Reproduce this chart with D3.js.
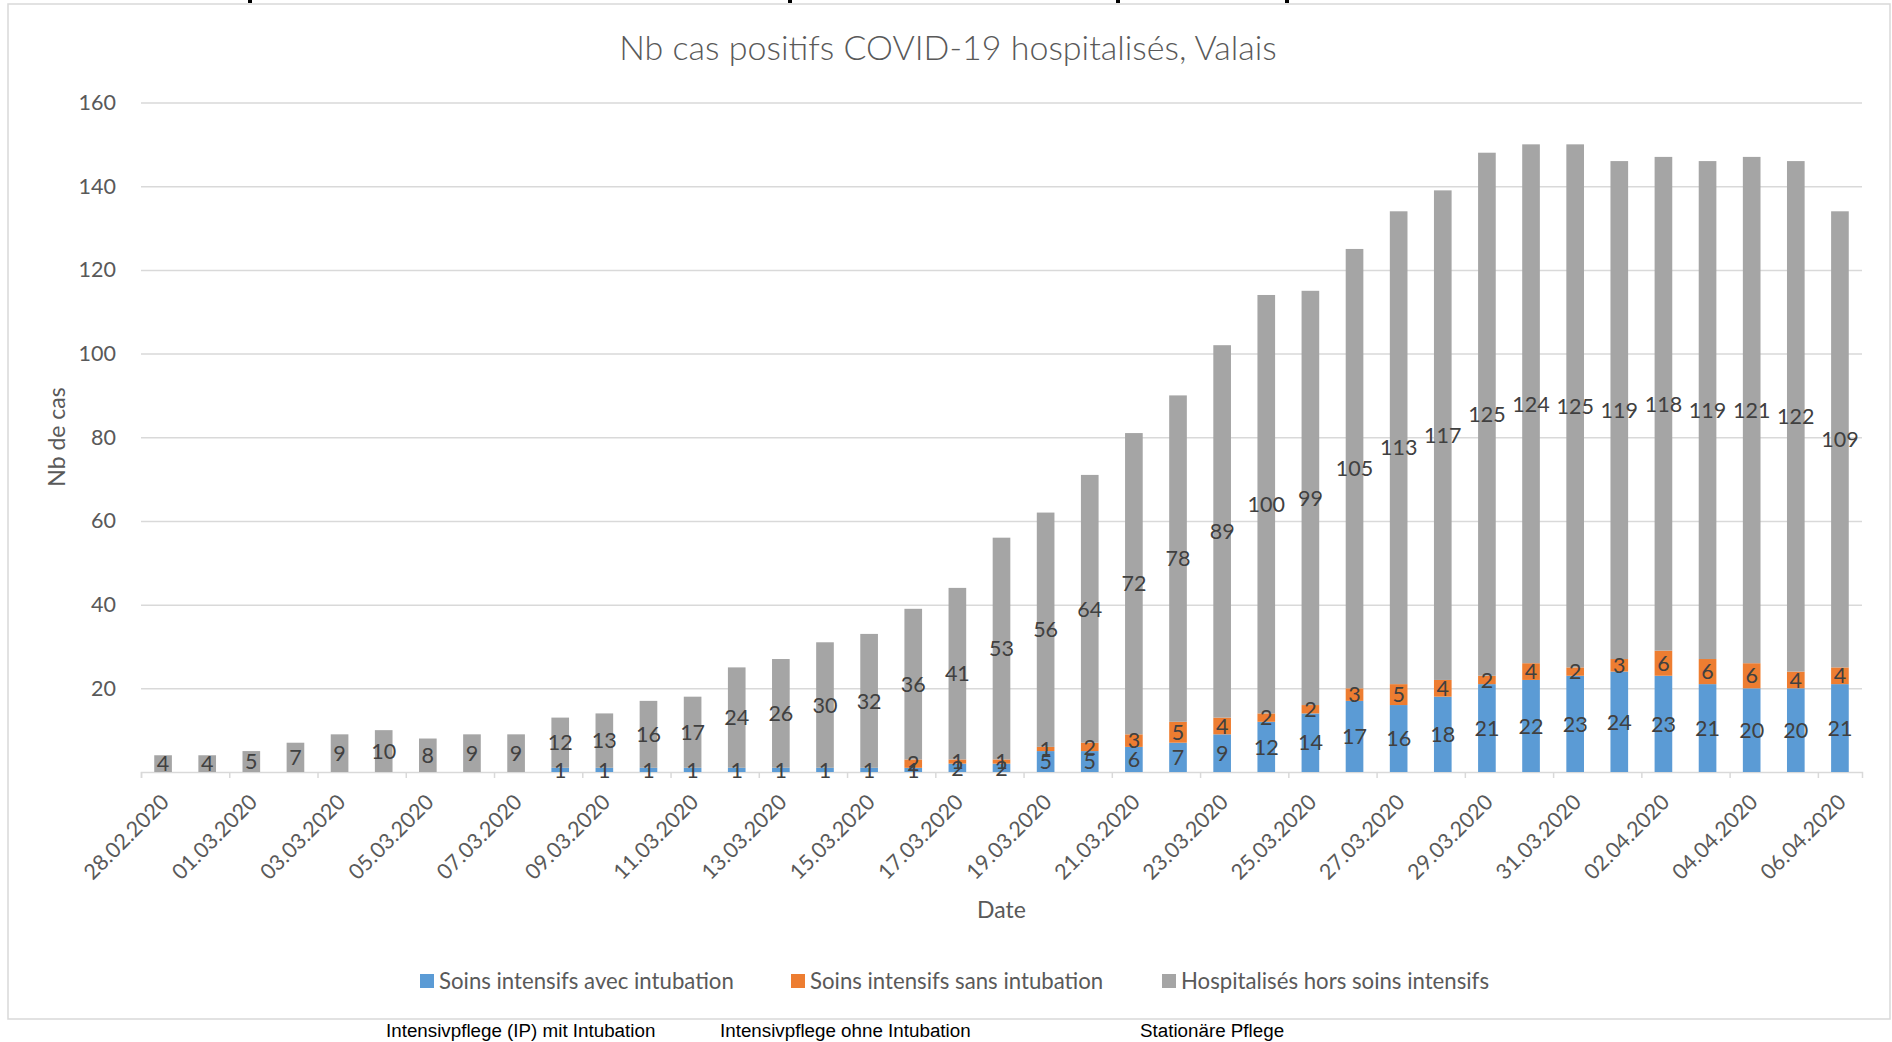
<!DOCTYPE html>
<html>
<head>
<meta charset="utf-8">
<script src="https://cdn.jsdelivr.net/npm/d3@7"></script>
<style>
  body { margin: 0; background: #fff; }
  text { font-family: Lato, "Open Sans", sans-serif; }
</style>
</head>
<body>
<svg id="chart"></svg>
<script>
// categories (one bar per day)
const dates = [
  "28.02.2020", "29.02.2020", "01.03.2020", "02.03.2020", "03.03.2020", "04.03.2020",
  "05.03.2020", "06.03.2020", "07.03.2020", "08.03.2020", "09.03.2020", "10.03.2020",
  "11.03.2020", "12.03.2020", "13.03.2020", "14.03.2020", "15.03.2020", "16.03.2020",
  "17.03.2020", "18.03.2020", "19.03.2020", "20.03.2020", "21.03.2020", "22.03.2020",
  "23.03.2020", "24.03.2020", "25.03.2020", "26.03.2020", "27.03.2020", "28.03.2020",
  "29.03.2020", "30.03.2020", "31.03.2020", "01.04.2020", "02.04.2020", "03.04.2020",
  "04.04.2020", "05.04.2020", "06.04.2020"
]

// series, bottom to top of the stack (0 = empty cell, no label)
const avecIntubation = [0, 0, 0, 0, 0, 0, 0, 0, 0, 1, 1, 1, 1, 1, 1, 1, 1, 1, 2, 2,
  5, 5, 6, 7, 9, 12, 14, 17, 16, 18, 21, 22, 23, 24, 23, 21, 20, 20, 21]
const sansIntubation = [0, 0, 0, 0, 0, 0, 0, 0, 0, 0, 0, 0, 0, 0, 0, 0, 0, 2, 1, 1,
  1, 2, 3, 5, 4, 2, 2, 3, 5, 4, 2, 4, 2, 3, 6, 6, 6, 4, 4]
const horsSoins = [4, 4, 5, 7, 9, 10, 8, 9, 9, 12, 13, 16, 17, 24, 26, 30, 32, 36, 41, 53,
  56, 64, 72, 78, 89, 100, 99, 105, 113, 117, 125, 124, 125, 119, 118, 119, 121, 122, 109]

const seriesNames = ["Soins intensifs avec intubation", "Soins intensifs sans intubation", "Hospitalisés hors soins intensifs"]
const seriesColors = ["#5B9BD5", "#ED7D31", "#A5A5A5"]
const yTicks = [20, 40, 60, 80, 100, 120, 140, 160]
const footNotes = ["Intensivpflege (IP) mit Intubation", "Intensivpflege ohne Intubation", "Stationäre Pflege"]

const W = 1892, H = 1042
const plot = {left: 141, right: 1862, top: 102.5, bottom: 772}

const svg = d3.select("#chart").attr("width", W).attr("height", H)

// chart area frame
svg.append("rect")
  .attr("x", 8).attr("y", 4).attr("width", 1882).attr("height", 1015)
  .attr("fill", "#fff").attr("stroke", "#D9D9D9").attr("stroke-width", 1.5)

// descenders of a heading cut off above the picture
svg.append("g").selectAll("rect")
  .data([250, 790, 1118, 1287]).enter()
  .append("rect")
  .attr("x", d => d - 2).attr("y", 0).attr("width", 4).attr("height", 3)
  .attr("fill", "#000")

let rows = dates.map((d, i) => ({
  date: d, avec: avecIntubation[i], sans: sansIntubation[i], hors: horsSoins[i]
}))
let stack = d3.stack().keys(["avec", "sans", "hors"])(rows)

let x = d3.scaleBand().domain(dates)
  .range([plot.left, plot.right])
  .paddingInner(0.6).paddingOuter(0.3)
let xIdx = d3.scaleLinear().domain([0, dates.length]).range([plot.left, plot.right])
let y = d3.scaleLinear().domain([0, 160]).range([plot.bottom, plot.top])

// gridlines + y tick labels
let yAxis = svg.append("g")
  .attr("transform", `translate(${plot.left},0)`)
  .call(d3.axisLeft(y).tickValues(yTicks).tickSize(-(plot.right - plot.left)).tickPadding(25))
yAxis.select(".domain").remove()
yAxis.selectAll(".tick line").attr("stroke", "#D9D9D9").attr("stroke-width", 1.5)
yAxis.selectAll(".tick text")
  .attr("fill", "#595959").style("font-size", "21.5px").style("font-family", "Lato")

// x axis with ticks every two days
let xAxis = svg.append("g")
  .attr("transform", `translate(0,${plot.bottom})`)
  .call(d3.axisBottom(xIdx).tickValues(d3.range(0, dates.length, 2)).tickSize(6).tickFormat(""))
xAxis.select(".domain").attr("stroke", "#D9D9D9").attr("stroke-width", 1.5)
xAxis.selectAll(".tick line").attr("stroke", "#D9D9D9").attr("stroke-width", 1.5)

svg.append("g").selectAll("text")
  .data(dates.filter((d, i) => i % 2 == 0)).enter()
  .append("text")
  .attr("transform", d => `translate(${x(d) + x.bandwidth() / 2 + 2},${plot.bottom + 26}) rotate(-45)`)
  .attr("text-anchor", "end").attr("dy", "0.35em")
  .attr("fill", "#595959").style("font-size", "21.5px")
  .text(d => d)

// stacked bars
let layers = svg.append("g").selectAll("g")
  .data(stack).enter()
  .append("g")
  .attr("fill", (d, i) => seriesColors[i])

layers.selectAll("rect")
  .data(d => d.filter(s => s[1] - s[0] > 0)).enter()
  .append("rect")
  .attr("x", s => x(s.data.date))
  .attr("width", x.bandwidth())
  .attr("y", s => y(s[1]))
  .attr("height", s => y(s[0]) - y(s[1]))

// data labels in the middle of each segment
svg.append("g").selectAll("g")
  .data(stack).enter()
  .append("g")
  .selectAll("text")
  .data(d => d.filter(s => s[1] - s[0] > 0)).enter()
  .append("text")
  .attr("x", s => x(s.data.date) + x.bandwidth() / 2)
  .attr("y", s => (y(s[0]) + y(s[1])) / 2)
  .attr("dy", "0.36em")
  .attr("text-anchor", "middle")
  .attr("fill", "#404040").style("font-size", "21.5px")
  .text(s => s[1] - s[0])

// titles
svg.append("text")
  .attr("x", 948).attr("y", 60)
  .attr("text-anchor", "middle")
  .attr("fill", "#595959").style("font-size", "34px").style("font-weight", 300)
  .text("Nb cas positifs COVID-19 hospitalisés, Valais")

svg.append("text")
  .attr("transform", "translate(57,437) rotate(-90)")
  .attr("text-anchor", "middle").attr("dy", "0.35em")
  .attr("fill", "#595959").style("font-size", "23px")
  .text("Nb de cas")

svg.append("text")
  .attr("x", (plot.left + plot.right) / 2).attr("y", 910)
  .attr("text-anchor", "middle").attr("dy", "0.35em")
  .attr("fill", "#595959").style("font-size", "23px")
  .text("Date")

// legend
let legendX = [420, 791, 1162]
let legend = svg.append("g").selectAll("g")
  .data(seriesNames).enter()
  .append("g")
  .attr("transform", (d, i) => `translate(${legendX[i]},974)`)
legend.append("rect")
  .attr("width", 14).attr("height", 14)
  .attr("fill", (d, i) => seriesColors[i])
legend.append("text")
  .attr("x", 19).attr("y", 7).attr("dy", "0.36em")
  .attr("fill", "#595959").style("font-size", "22.2px")
  .text(d => d)

// German labels below the chart
let footX = [386, 720, 1140]
svg.append("g").selectAll("text")
  .data(footNotes).enter()
  .append("text")
  .attr("x", (d, i) => footX[i]).attr("y", 1037)
  .attr("fill", "#000")
  .style("font-family", "'Liberation Sans', Arial, sans-serif").style("font-size", "18.8px")
  .text(d => d)
</script>
</body>
</html>
